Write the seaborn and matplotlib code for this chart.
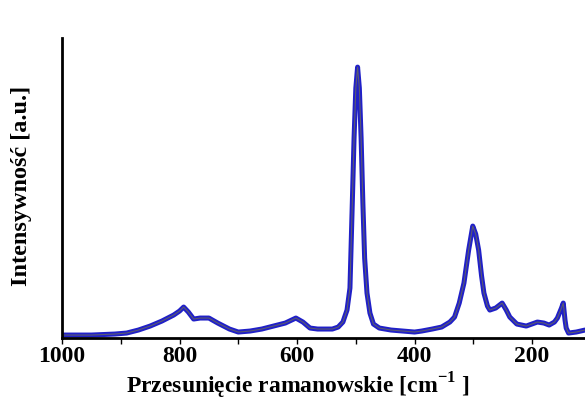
import pandas as pd
import matplotlib
matplotlib.use("Agg")
import matplotlib.pyplot as plt
import seaborn as sns

# widmo ramanowskie
shift = [1000, 950, 910, 890, 870, 850, 830, 810, 800, 793, 785, 776, 765, 750, 735,
         715, 700, 680, 660, 640, 620, 602, 590, 578, 565, 550, 540, 530, 522, 515,
         510, 506, 503, 500, 497, 494, 491, 488, 485, 481, 476, 470, 460, 440, 420,
         400, 388, 370, 354, 340, 332, 324, 316, 308, 301, 296, 291, 286, 282, 276,
         272, 262, 251, 244, 238, 226, 210, 191, 180, 171, 162, 157, 150, 147, 144,
         142, 138, 125, 110]
intensity = [3, 3, 4, 5, 8, 12, 17, 23, 27, 31, 26, 19, 20, 20, 15,
             9, 6, 7, 9, 12, 15, 20, 16, 10, 9, 9, 9, 11, 16, 28,
             50, 135, 200, 250, 271, 250, 200, 135, 80, 45, 25, 14, 10, 8, 7,
             6, 7, 9, 11, 16, 21, 35, 55, 88, 112, 104, 88, 62, 45, 32,
             28, 30, 35, 28, 21, 14, 12, 16, 15, 13, 16, 20, 30, 35, 18,
             10, 5, 6, 8]
xticks = [1000, 800, 600, 400, 200]

df = pd.DataFrame({"shift": shift, "intensity": intensity})

sns.set_style("ticks")
plt.rcParams["font.family"] = ["Liberation Serif", "DejaVu Serif"]
plt.rcParams["font.weight"] = "bold"
plt.rcParams["mathtext.fontset"] = "custom"
plt.rcParams["mathtext.bf"] = "Liberation Serif:bold"
plt.rcParams["mathtext.rm"] = "Liberation Serif:bold"

fig = plt.figure(figsize=(5.85, 4.01), dpi=100)
ax = fig.add_axes([0.106, 0.157, 0.894, 0.748])

sns.lineplot(data=df, x="shift", y="intensity", ax=ax, color="#2020c8",
             linewidth=3.6, sort=False)
sns.lineplot(data=df, x="shift", y="intensity", ax=ax, color="#5a5a70",
             linewidth=0.8, sort=False)

ax.set_xlim(1000, 110)
ax.set_ylim(0, 300)
ax.set_xticks(xticks)
ax.set_xticks(range(900, 100, -200), minor=True)
ax.set_yticks([])
ax.tick_params(axis="x", which="both", direction="out", length=4, width=1,
               labelsize=17, pad=2, colors="black")
for lab in ax.get_xticklabels():
    lab.set_fontweight("bold")

sns.despine(ax=ax, top=True, right=True)
for side in ["left", "bottom"]:
    ax.spines[side].set_linewidth(2)
    ax.spines[side].set_color("black")

ax.set_xlabel("Przesunięcie ramanowskie [cm$^{-1}$ ]", fontsize=17,
              fontweight="bold", color="black")
ax.set_ylabel("Intensywność [a.u.]", fontsize=17.5, fontweight="bold",
              color="black")
ax.xaxis.set_label_coords(0.451, -0.11)
ax.yaxis.set_label_coords(-0.058, 0.508)

fig.savefig("out.png", dpi=100)
